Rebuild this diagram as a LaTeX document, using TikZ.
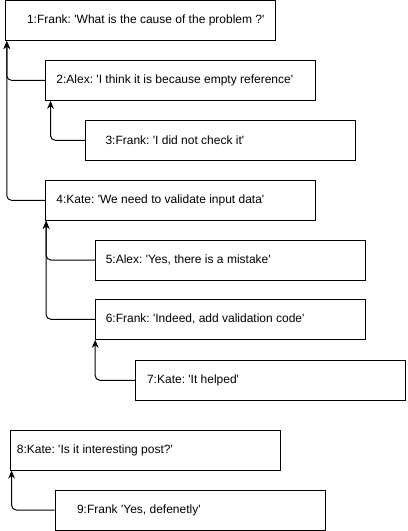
\documentclass[tikz,border=0pt]{standalone}
\usepackage{fontspec}
\setmainfont{Liberation Sans}[Ligatures=TeXOff]
\usetikzlibrary{arrows.meta}
\frenchspacing
\begin{document}
\begin{tikzpicture}[x=0.75pt,y=-0.75pt,
  msg/.style={draw=black, line width=0.75pt, rectangle, minimum width=202.5pt, minimum height=30pt,
    inner sep=0pt},
  lbl/.style={anchor=west, inner sep=0pt, xshift=#1*0.75pt, font=\fontsize{9pt}{11pt}\selectfont},
  arr/.style={draw=black, line width=0.75pt, rounded corners=3.5pt, -{Stealth[length=6pt,width=5pt]}}]
\useasboundingbox (0,0) rectangle (407,531);
\node[msg, label={[lbl=21.6]west:1:Frank: 'What is the cause of the problem ?'}] (b1) at (140.7,20.5) {};
\node[msg, label={[lbl=11.4]west:2:Alex: 'I think it is because empty reference'}] (b2) at (180.3,80.3) {};
\node[msg, label={[lbl=20.3]west:3:Frank: 'I did not check it'}] (b3) at (220.5,140.3) {};
\node[msg, label={[lbl=11.4]west:4:Kate: 'We need to validate input data'}] (b4) at (180.3,200.3) {};
\node[msg, label={[lbl=10.3]west:5:Alex: 'Yes, there is a mistake'}] (b5) at (230.7,260) {};
\node[msg, label={[lbl=10.3]west:6:Frank: 'Indeed, add validation code'}] (b6) at (230.7,319.3) {};
\node[msg, label={[lbl=12]west:7:Kate: 'It helped'}] (b7) at (270.3,380.3) {};
\node[msg, label={[lbl=6.6]west:8:Kate: 'Is it interesting post?'}] (b8) at (145.5,450) {};
\node[msg, label={[lbl=22.3]west:9:Frank 'Yes, defenetly'}] (b9) at (190,510) {};
\draw[arr] (b2.west) -| ([xshift=1.2pt]b1.south west);
\draw[arr] (b4.west) -| ([xshift=1.2pt]b1.south west);
\draw[arr] (b3.west) -| ([xshift=4.3pt]b2.south west);
\draw[arr] (b5.west) -| ([xshift=1pt]b4.south west);
\draw[arr] (b6.west) -| ([xshift=1pt]b4.south west);
\draw[arr] (b7.west) -| ([xshift=0pt]b6.south west);
\draw[arr] (b9.west) -| ([xshift=1.2pt]b8.south west);
\end{tikzpicture}
\end{document}
